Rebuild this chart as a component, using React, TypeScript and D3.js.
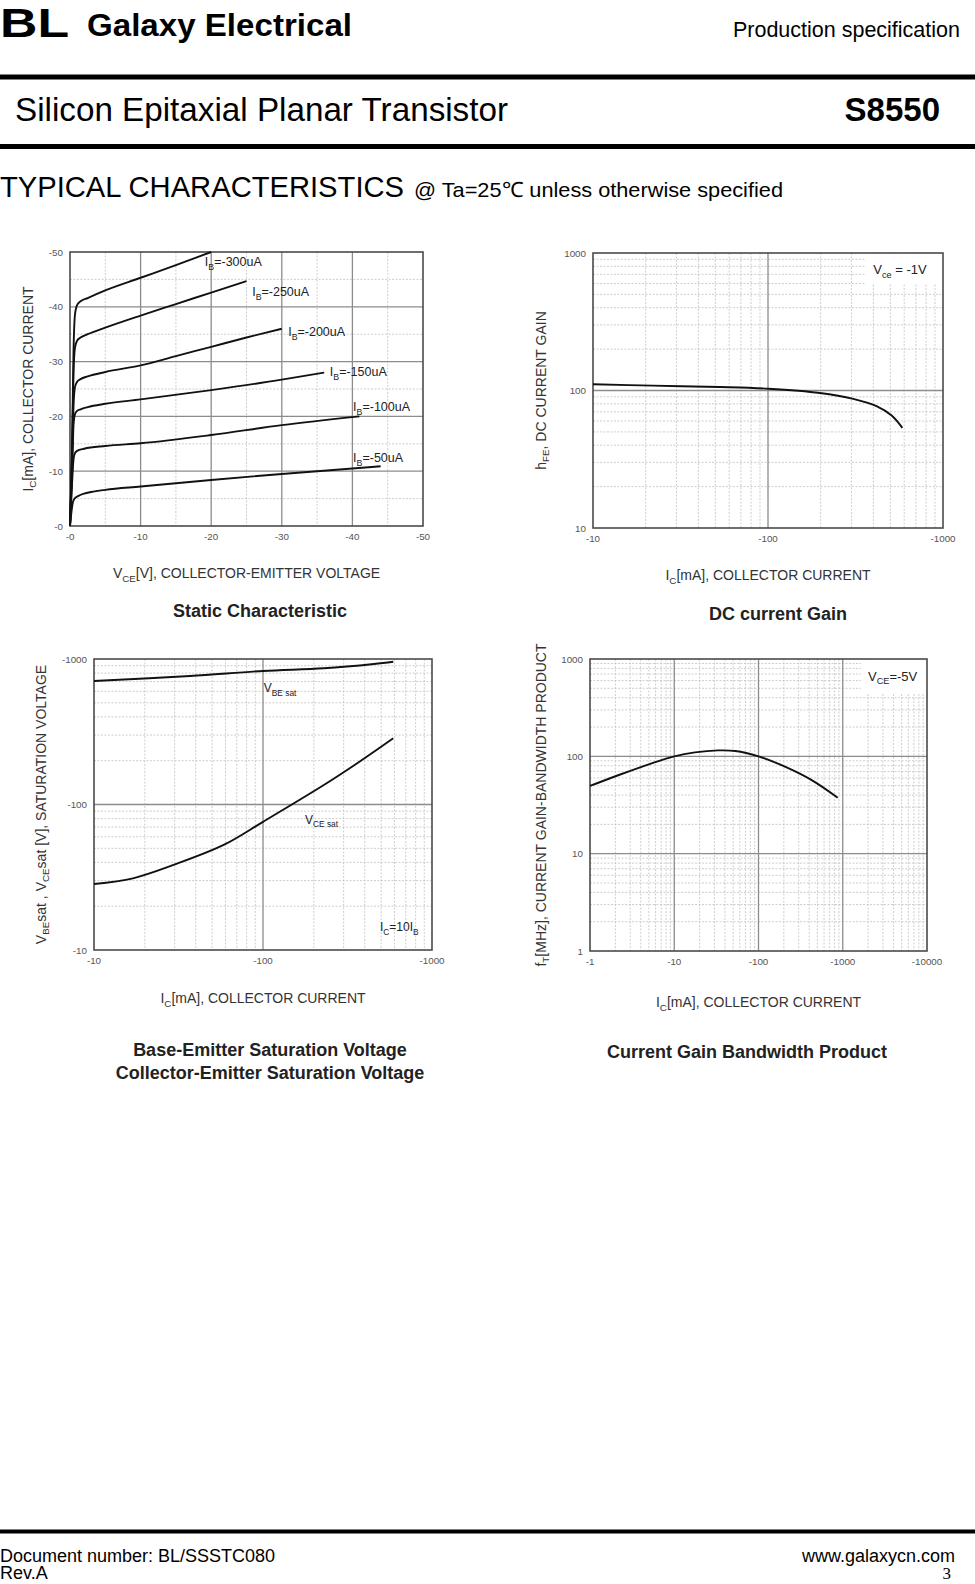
import React from 'react'
import * as d3 from 'd3'

type Pt = [number, number]
type Part = string | { sub: string }

const FONT = 'Arial, "Liberation Sans", Helvetica, sans-serif'

// ---------- Static Characteristic: VCE [V] vs IC [mA], one curve per IB ----------
const staticTicks = [0, -10, -20, -30, -40, -50]
const staticTickLabels = ['-0', '-10', '-20', '-30', '-40', '-50']
const ibNames = ['-300uA', '-250uA', '-200uA', '-150uA', '-100uA', '-50uA']
const ib300: Pt[] = [[0, 0], [-0.3, -15], [-0.5, -32], [-0.7, -38.5], [-1, -40.3], [-1.5, -41], [-2.5, -41.6], [-5, -43], [-10, -45.3], [-15, -47.6], [-20, -50]]
const ib250: Pt[] = [[0, 0], [-0.3, -14], [-0.5, -28], [-0.7, -32.5], [-1, -33.8], [-1.5, -34.4], [-2.5, -35], [-5, -36.2], [-10, -38.4], [-15, -40.5], [-20, -42.6], [-25, -44.7]]
const ib200: Pt[] = [[0, 0], [-0.3, -12], [-0.5, -22], [-0.7, -25.3], [-1, -26.3], [-1.5, -26.8], [-2.5, -27.3], [-5, -28.1], [-10, -29.3], [-15, -31], [-20, -32.7], [-25, -34.4], [-30, -36]]
const ib150: Pt[] = [[0, 0], [-0.3, -10], [-0.5, -18.5], [-0.7, -20.4], [-1, -21], [-1.5, -21.3], [-2.5, -21.7], [-5, -22.3], [-10, -23.1], [-20, -24.8], [-30, -26.7], [-36, -28]]
const ib100: Pt[] = [[0, 0], [-0.3, -8], [-0.5, -12.2], [-0.7, -13.3], [-1, -13.7], [-2, -14.1], [-5, -14.6], [-10, -15.1], [-20, -16.6], [-30, -18.4], [-41, -20]]
const ib50: Pt[] = [[0, 0], [-0.2, -2.5], [-0.4, -4.3], [-0.7, -5.1], [-1.2, -5.5], [-2, -5.9], [-3, -6.2], [-5, -6.6], [-10, -7.2], [-20, -8.4], [-30, -9.5], [-44, -10.9]]

// ---------- DC current gain: |IC| [mA] vs hFE ----------
const decades3 = [10, 100, 1000]
const negDecade3 = ['-10', '-100', '-1000']
const posDecade3 = ['10', '100', '1000']
const hfeIc = [10, 22, 53, 100, 198, 307, 417, 507, 586]
const hfe = [111, 108.5, 106, 103, 96, 87, 77, 66, 53.5]

// ---------- Saturation voltages: |IC| [mA] vs |V| ----------
const vbeIc = [10, 37, 100, 229, 453, 590]
const vbeSat = [706, 764, 828, 863, 924, 958]
const vceIc = [10, 17, 29.5, 58.5, 100, 229, 361, 590]
const vceSat = [28.4, 31.1, 38.4, 52.7, 76, 136, 192, 285]

// ---------- Current gain bandwidth product: |IC| [mA] vs fT [MHz] ----------
const ftXTicks = [1, 10, 100, 1000, 10000]
const ftXLabels = ['-1', '-10', '-100', '-1000', '-10000']
const ftYTicks = [1, 10, 100, 1000]
const ftYLabels = ['1', '10', '100', '1000']
const ftIc = [1, 2.2, 5.4, 10, 17.6, 33, 53, 100, 206, 428, 871]
const ft = [49.6, 64.3, 84.8, 100, 109.7, 115, 113.5, 100, 78.3, 57, 37.6]

const zip = (a: number[], b: number[]): Pt[] => a.map((v, i) => [v, b[i]])

function logMinors(lo: number, hi: number) {
  const out: number[] = []
  for (let d = lo; d < hi; d *= 10) for (let k = 2; k <= 9; k++) out.push(d * k)
  return out
}

function Rich({ parts, fs }: { parts: Part[]; fs: number }) {
  let shifted = false
  const sh = fs * 0.3
  return (
    <>
      {parts.map((p, i) => {
        if (typeof p === 'string') {
          const el = <tspan key={i} dy={shifted ? -sh : 0} fontSize={fs}>{p}</tspan>
          shifted = false
          return el
        }
        const el = <tspan key={i} dy={shifted ? 0 : sh} fontSize={fs * 0.7}>{p.sub}</tspan>
        shifted = true
        return el
      })}
    </>
  )
}

type Scale = (v: number) => number

interface PanelProps {
  frame: [number, number, number, number]
  xLog?: boolean
  yLog?: boolean
  xDomain: [number, number]
  yDomain: [number, number]
  xMajor: number[]
  xMinor: number[]
  yMajor: number[]
  yMinor: number[]
  xTicks: number[]
  xTickLabels: string[]
  yTicks: number[]
  yTickLabels: string[]
  curves: Pt[][]
  mask?: [number, number]
  yTitle: Part[]
  yTitleX: number
  xTitle: Part[]
  xTitleY: number
  caption: string[]
  captionX: number
  captionY: number
  notes?: (x: Scale, y: Scale) => React.ReactNode
}

function Panel(p: PanelProps) {
  const [l, t, r, b] = p.frame
  const x = (p.xLog ? d3.scaleLog() : d3.scaleLinear()).domain(p.xDomain).range([l, r])
  const y = (p.yLog ? d3.scaleLog() : d3.scaleLinear()).domain(p.yDomain).range([b, t])
  const line = d3.line<Pt>()
    .x(d => x(d[0]))
    .y(d => y(d[1]))
    .curve(p.xLog ? d3.curveCatmullRom.alpha(0.5) : d3.curveMonotoneX)
  const tickFs = 9.8
  return (
    <g>
      {p.xMinor.map(v => (
        <line key={'xm' + v} x1={x(v)} x2={x(v)} y1={t} y2={b} stroke="#c2c2c2" strokeWidth={0.8} strokeDasharray="2,1.5" />
      ))}
      {p.yMinor.map(v => (
        <line key={'ym' + v} x1={l} x2={r} y1={y(v)} y2={y(v)} stroke="#c2c2c2" strokeWidth={0.8} strokeDasharray="2,1.5" />
      ))}
      {p.xMajor.map(v => (
        <line key={'xM' + v} x1={x(v)} x2={x(v)} y1={t} y2={b} stroke="#8c8c8c" strokeWidth={1.3} />
      ))}
      {p.yMajor.map(v => (
        <line key={'yM' + v} x1={l} x2={r} y1={y(v)} y2={y(v)} stroke="#8c8c8c" strokeWidth={1.3} />
      ))}
      {p.mask && <rect x={r - p.mask[0]} y={t + 1} width={p.mask[0]} height={p.mask[1]} fill="#fff" />}
      <rect x={l} y={t} width={r - l} height={b - t} fill="none" stroke="#4a4a4a" strokeWidth={1.6} />
      {p.curves.map((c, i) => (
        <path key={i} d={line(c) || ''} fill="none" stroke="#111" strokeWidth={1.9} />
      ))}
      {p.xTicks.map((v, i) => (
        <text key={'xt' + v} x={x(v)} y={b + 14} textAnchor="middle" fontSize={tickFs} fill="#555">{p.xTickLabels[i]}</text>
      ))}
      {p.yTicks.map((v, i) => (
        <text key={'yt' + v} x={l - 7} y={y(v) + 3.5} textAnchor="end" fontSize={tickFs} fill="#555">{p.yTickLabels[i]}</text>
      ))}
      <text transform={`translate(${p.yTitleX},${(t + b) / 2}) rotate(-90)`} textAnchor="middle" dominantBaseline="middle" fill="#333">
        <Rich parts={p.yTitle} fs={14} />
      </text>
      <text x={(l + r) / 2} y={p.xTitleY} textAnchor="middle" fill="#333">
        <Rich parts={p.xTitle} fs={14} />
      </text>
      {p.caption.map((c, i) => (
        <text key={c} x={p.captionX} y={p.captionY + i * 23} textAnchor="middle" fontSize={18} fontWeight="bold" fill="#222">{c}</text>
      ))}
      {p.notes && p.notes(x as Scale, y as Scale)}
    </g>
  )
}

const icTitle: Part[] = ['I', { sub: 'C' }, '[mA], COLLECTOR CURRENT']

export default function App() {
  const staticMinor = [-5, -15, -25, -35, -45]
  const ibLabelAt: Pt[] = [[-19.1, -47.4], [-25.8, -41.9], [-30.9, -34.6], [-36.8, -27.3], [-40.1, -20.9], [-40.1, -11.6]]
  return (
    <svg width={975} height={1584} style={{ position: 'absolute', left: 0, top: 0, background: '#fff' }} fontFamily={FONT}>
      {/* header */}
      <text x={0} y={37} fontSize={41} fontWeight="bold" textLength={69} lengthAdjust="spacingAndGlyphs">BL</text>
      <text x={87} y={36} fontSize={32} fontWeight="bold" textLength={265} lengthAdjust="spacingAndGlyphs">Galaxy Electrical</text>
      <text x={960} y={37} fontSize={21.5} textAnchor="end">Production specification</text>
      <line x1={0} x2={975} y1={77} y2={77} stroke="#000" strokeWidth={5} />
      <text x={15} y={121} fontSize={33} textLength={493} lengthAdjust="spacingAndGlyphs">Silicon Epitaxial Planar Transistor</text>
      <text x={940} y={121} fontSize={33} fontWeight="bold" textAnchor="end">S8550</text>
      <line x1={0} x2={975} y1={146.5} y2={146.5} stroke="#000" strokeWidth={5} />
      <text x={0} y={197} fontSize={29} textLength={404} lengthAdjust="spacingAndGlyphs">TYPICAL CHARACTERISTICS</text>
      <text x={414} y={197} fontSize={21} textLength={369} lengthAdjust="spacingAndGlyphs">@ Ta=25℃ unless otherwise specified</text>

      {/* Static Characteristic */}
      <Panel
        frame={[70, 252, 423, 526]}
        xDomain={[0, -50]}
        yDomain={[0, -50]}
        xMajor={staticTicks.slice(1, -1)}
        xMinor={staticMinor}
        yMajor={staticTicks.slice(1, -1)}
        yMinor={staticMinor}
        xTicks={staticTicks}
        xTickLabels={staticTickLabels}
        yTicks={staticTicks}
        yTickLabels={staticTickLabels}
        curves={[ib300, ib250, ib200, ib150, ib100, ib50]}
        yTitle={['I', { sub: 'C' }, '[mA], COLLECTOR CURRENT']}
        yTitleX={29}
        xTitle={['V', { sub: 'CE' }, '[V], COLLECTOR-EMITTER VOLTAGE']}
        xTitleY={578}
        caption={['Static Characteristic']}
        captionX={260}
        captionY={617}
        notes={(x, y) =>
          ibNames.map((n, i) => (
            <text key={n} x={x(ibLabelAt[i][0])} y={y(ibLabelAt[i][1])} fill="#222">
              <Rich parts={['I', { sub: 'B' }, '=' + n]} fs={12.5} />
            </text>
          ))
        }
      />

      {/* DC current Gain */}
      <Panel
        frame={[593, 253, 943, 528]}
        xLog
        yLog
        xDomain={[10, 1000]}
        yDomain={[10, 1000]}
        xMajor={[100]}
        xMinor={logMinors(10, 1000)}
        yMajor={[100]}
        yMinor={logMinors(10, 1000)}
        xTicks={decades3}
        xTickLabels={negDecade3}
        yTicks={decades3}
        yTickLabels={posDecade3}
        curves={[zip(hfeIc, hfe)]}
        mask={[78, 30]}
        yTitle={['h', { sub: 'FE' }, ', DC CURRENT GAIN']}
        yTitleX={542}
        xTitle={icTitle}
        xTitleY={580}
        caption={['DC current Gain']}
        captionX={778}
        captionY={620}
        notes={(x, y) => (
          <text x={x(400)} y={y(700)} fill="#222">
            <Rich parts={['V', { sub: 'ce' }, ' = -1V']} fs={13} />
          </text>
        )}
      />

      {/* Saturation voltages */}
      <Panel
        frame={[94, 659, 432, 950]}
        xLog
        yLog
        xDomain={[10, 1000]}
        yDomain={[10, 1000]}
        xMajor={[100]}
        xMinor={logMinors(10, 1000)}
        yMajor={[100]}
        yMinor={logMinors(10, 1000)}
        xTicks={decades3}
        xTickLabels={negDecade3}
        yTicks={decades3}
        yTickLabels={negDecade3}
        curves={[zip(vbeIc, vbeSat), zip(vceIc, vceSat)]}
        yTitle={['V', { sub: 'BE' }, 'sat  ,  V', { sub: 'CE' }, 'sat   [V], SATURATION VOLTAGE']}
        yTitleX={42}
        xTitle={icTitle}
        xTitleY={1003}
        caption={['Base-Emitter Saturation Voltage', 'Collector-Emitter Saturation Voltage']}
        captionX={270}
        captionY={1056}
        notes={(x, y) => (
          <>
            <text x={x(101)} y={y(590)} fill="#222"><Rich parts={['V', { sub: 'BE sat' }]} fs={12} /></text>
            <text x={x(177)} y={y(74)} fill="#222"><Rich parts={['V', { sub: 'CE sat' }]} fs={12} /></text>
            <text x={x(492)} y={y(13.5)} fill="#222"><Rich parts={['I', { sub: 'C' }, '=10I', { sub: 'B' }]} fs={12} /></text>
          </>
        )}
      />

      {/* Current Gain Bandwidth Product */}
      <Panel
        frame={[590, 659, 927, 951]}
        xLog
        yLog
        xDomain={[1, 10000]}
        yDomain={[1, 1000]}
        xMajor={ftXTicks.slice(1, -1)}
        xMinor={logMinors(1, 10000)}
        yMajor={ftYTicks.slice(1, -1)}
        yMinor={logMinors(1, 1000)}
        xTicks={ftXTicks}
        xTickLabels={ftXLabels}
        yTicks={ftYTicks}
        yTickLabels={ftYLabels}
        curves={[zip(ftIc, ft)]}
        mask={[66, 33]}
        yTitle={['f', { sub: 'T' }, '[MHz], CURRENT GAIN-BANDWIDTH PRODUCT']}
        yTitleX={542}
        xTitle={icTitle}
        xTitleY={1007}
        caption={['Current Gain Bandwidth Product']}
        captionX={747}
        captionY={1058}
        notes={(x, y) => (
          <text x={x(2000)} y={y(600)} fill="#222">
            <Rich parts={['V', { sub: 'CE' }, '=-5V']} fs={13} />
          </text>
        )}
      />

      {/* footer */}
      <line x1={0} x2={975} y1={1531.5} y2={1531.5} stroke="#000" strokeWidth={4} />
      <text x={0} y={1562} fontSize={18}>Document number: BL/SSSTC080</text>
      <text x={955} y={1562} fontSize={18} textAnchor="end">www.galaxycn.com</text>
      <text x={0} y={1579} fontSize={18}>Rev.A</text>
      <text x={951} y={1579} fontSize={17} textAnchor="end" fontFamily='"Liberation Serif", "Times New Roman", serif'>3</text>
    </svg>
  )
}
